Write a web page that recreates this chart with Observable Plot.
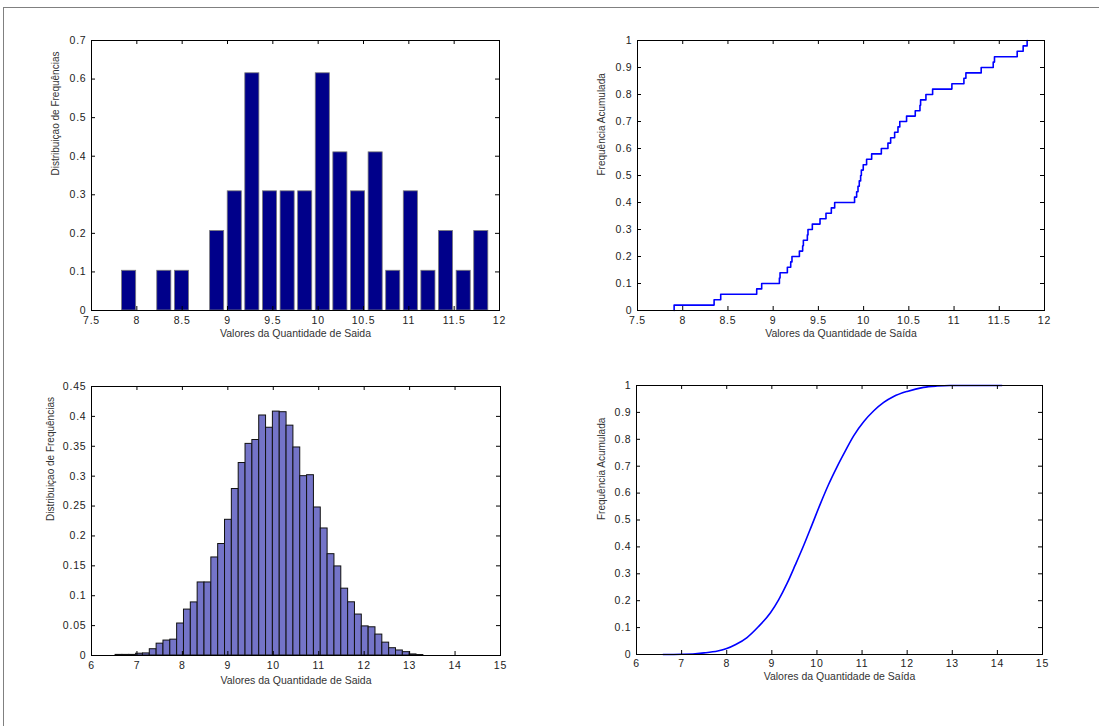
<!DOCTYPE html>
<html>
<head>
<meta charset="utf-8">
<script src="https://cdn.jsdelivr.net/npm/d3@7"></script>
<script src="https://cdn.jsdelivr.net/npm/@observablehq/plot@0.6"></script>
<style>
  html, body { margin: 0; padding: 0; background: #fff; }
  #fig { position: relative; width: 1099px; height: 726px; overflow: hidden; background: #fff; }
  #sheet { position: absolute; left: 3px; top: 7px; right: -4px; bottom: -4px;
           border-top: 1px solid #808080; border-left: 1px solid #808080; }
  .panel { position: absolute; }
  .panel svg { font-family: "Liberation Sans", Arial, Helvetica, sans-serif; }
  g[aria-label="x-axis tick label"] text,
  g[aria-label="y-axis tick label"] text,
  g[aria-label="x title"] text { letter-spacing: 0.8px; }
</style>
</head>
<body>
<div id="fig"><div id="sheet"></div></div>
<script>
// ---- 50 simulated output values (sorted) ----
const sampleValues = [
  7.905, 8.347, 8.42, 8.818, 8.873, 9.069, 9.076, 9.157, 9.194, 9.208,
  9.29, 9.326, 9.334, 9.378, 9.385, 9.433, 9.518, 9.584, 9.643, 9.68,
  9.90, 9.923, 9.938, 9.952, 9.967, 9.975, 9.996, 10.033, 10.089, 10.196,
  10.269, 10.299, 10.343, 10.38, 10.40, 10.475, 10.571, 10.623, 10.63, 10.689,
  10.763, 10.976, 11.109, 11.131, 11.30, 11.433, 11.447, 11.698, 11.764, 11.808
];

// ---- frequency distribution of the 50 values ----
const smallBinCenters = [
  7.915, 8.109, 8.303, 8.498, 8.692, 8.886, 9.08, 9.274, 9.469, 9.663, 9.857,
  10.051, 10.245, 10.44, 10.634, 10.828, 11.022, 11.216, 11.41, 11.605, 11.799
];
const smallBinDensity = [
  0.103, 0, 0.103, 0.103, 0, 0.206, 0.309, 0.615, 0.309, 0.309, 0.309,
  0.615, 0.41, 0.309, 0.41, 0.103, 0.309, 0.103, 0.206, 0.103, 0.206
];
const smallBinWidth = 0.1942;

// ---- frequency distribution of the large run ----
const bigFirstEdge = 6.53;
const bigBinWidth = 0.1505;
const bigBinDensity = [
  0.001, 0.001, 0.001, 0.003, 0.0035, 0.0105, 0.0198, 0.025, 0.0265, 0.0535,
  0.0768, 0.0888, 0.1222, 0.1222, 0.164, 0.1865, 0.227, 0.2785, 0.322, 0.354,
  0.3605, 0.4015, 0.381, 0.408, 0.407, 0.3845, 0.348, 0.300, 0.3016, 0.2476,
  0.2125, 0.1695, 0.149, 0.1118, 0.089, 0.0685, 0.0487, 0.0472, 0.035, 0.0215,
  0.0122, 0.0084, 0.0056, 0.0018, 0.0008
];

// ---- cumulative frequency of the large run ----
const bigCdfX = [6.59, 7.0, 7.3, 7.5, 7.8, 8.0, 8.2, 8.45, 8.7, 8.97, 9.15, 9.34, 9.52, 9.71, 9.89,
  10.08, 10.26, 10.44, 10.63, 10.81, 11.04, 11.26, 11.48, 11.70, 12.0, 12.36, 12.66, 12.95, 14.1];
const bigCdfY = [0, 0.001, 0.003, 0.006, 0.013, 0.022, 0.037, 0.063, 0.103, 0.155, 0.203, 0.265, 0.333, 0.407, 0.482,
  0.562, 0.633, 0.696, 0.757, 0.812, 0.866, 0.906, 0.937, 0.959, 0.978, 0.993, 0.998, 1, 1];

// ---- axis ticks ----
const topXTicks = [7.5, 8, 8.5, 9, 9.5, 10, 10.5, 11, 11.5, 12];
const topLeftYTicks = [0, 0.1, 0.2, 0.3, 0.4, 0.5, 0.6, 0.7];
const cdfYTicks = [0, 0.1, 0.2, 0.3, 0.4, 0.5, 0.6, 0.7, 0.8, 0.9, 1];
const bottomXTicks = [6, 7, 8, 9, 10, 11, 12, 13, 14, 15];
const bottomLeftYTicks = [0, 0.05, 0.1, 0.15, 0.2, 0.25, 0.3, 0.35, 0.4, 0.45];

const xTitleNoAccent = "Valores da Quantidade de Saida";
const xTitleAccent = "Valores da Quantidade de Saída";
const histTitle = "Distribuiçao de Frequências";
const cdfTitle = "Frequência Acumulada";

// ---- derived tables ----
const smallBars = smallBinCenters
  .map((c, i) => ({x1: c - 0.4 * smallBinWidth, x2: c + 0.4 * smallBinWidth, h: smallBinDensity[i]}))
  .filter(d => d.h > 0);
const bigBars = bigBinDensity.map((h, i) => ({
  x1: bigFirstEdge + i * bigBinWidth, x2: bigFirstEdge + (i + 1) * bigBinWidth, h
}));
const ecdf = [{x: sampleValues[0], y: 0}]
  .concat(sampleValues.map((v, i) => ({x: v, y: (i + 1) / sampleValues.length})));
const bigCdf = bigCdfX.map((x, i) => ({x, y: bigCdfY[i]}));

const fig = document.getElementById("fig");

function panel({left, top, width, height, m, xDomain, yDomain, xTicks, yTicks, marks,
                xTitle, yTitle, xPad, xTitleOff, yTitleOff}) {
  const [mt, mr, mb, ml] = m;
  const innerW = width - ml - mr, innerH = height - mt - mb;
  const svg = Plot.plot({
    width, height,
    marginTop: mt, marginRight: mr, marginBottom: mb, marginLeft: ml,
    style: {fontSize: "10.5px", color: "#222", background: "transparent", overflow: "visible", maxWidth: "none"},
    x: {domain: xDomain, label: null},
    y: {domain: yDomain, label: null},
    marks: [
      ...marks,
      Plot.tickX(xTicks, {x: d => d, insetTop: innerH - 4, stroke: "#000"}),
      Plot.tickX(xTicks, {x: d => d, insetBottom: innerH - 4, stroke: "#000"}),
      Plot.tickY(yTicks, {y: d => d, insetRight: innerW - 4, stroke: "#000"}),
      Plot.tickY(yTicks, {y: d => d, insetLeft: innerW - 4, stroke: "#000"}),
      Plot.axisX({ticks: xTicks, tickSize: 0, tickPadding: xPad, label: null, tickFormat: d => String(d), fill: "#222"}),
      Plot.axisY({ticks: yTicks, tickSize: 0, tickPadding: 5, label: null, tickFormat: d => String(d), fill: "#222"}),
      Plot.frame({stroke: "#000"}),
      Plot.text([xTitle], {frameAnchor: "bottom", dy: xTitleOff, text: d => d, lineAnchor: "middle",
        fill: "#333", fontSize: 10.5, ariaLabel: "x title"}),
      Plot.text([yTitle], {frameAnchor: "left", dx: -yTitleOff, rotate: -90, text: d => d, lineAnchor: "middle",
        fill: "#333", fontSize: 10, ariaLabel: "y title"})
    ]
  });
  const div = document.createElement("div");
  div.className = "panel";
  div.style.left = left + "px";
  div.style.top = top + "px";
  div.style.width = width + "px";
  div.style.height = height + "px";
  div.appendChild(svg);
  fig.appendChild(div);
}

// top left: histogram of the 50 values
panel({
  left: 0, top: 0, width: 549, height: 363, m: [40, 50, 53, 91],
  xDomain: [7.5, 12], yDomain: [0, 0.7], xTicks: topXTicks, yTicks: topLeftYTicks,
  marks: [Plot.rect(smallBars, {x1: "x1", x2: "x2", y1: 0, y2: "h", fill: "#00008a", stroke: "#7a7a7a", strokeWidth: 0.8})],
  xTitle: xTitleNoAccent, yTitle: histTitle, xPad: 6, xTitleOff: 23.5, yTitleOff: 36
});

// top right: empirical cumulative frequency of the 50 values
panel({
  left: 549, top: 0, width: 550, height: 363, m: [40, 55, 53, 88],
  xDomain: [7.5, 12], yDomain: [0, 1], xTicks: topXTicks, yTicks: cdfYTicks,
  marks: [Plot.line(ecdf, {x: "x", y: "y", curve: "step-after", stroke: "#0000ff", strokeWidth: 1.6})],
  xTitle: xTitleAccent, yTitle: cdfTitle, xPad: 6, xTitleOff: 23.5, yTitleOff: 36
});

// bottom left: histogram of the large run
panel({
  left: 0, top: 363, width: 549, height: 363, m: [23, 49, 71, 91],
  xDomain: [6, 15], yDomain: [0, 0.45], xTicks: bottomXTicks, yTicks: bottomLeftYTicks,
  marks: [Plot.rect(bigBars, {x1: "x1", x2: "x2", y1: 0, y2: "h", fill: "#7474c8", stroke: "#111", strokeWidth: 1})],
  xTitle: xTitleNoAccent, yTitle: histTitle, xPad: 6, xTitleOff: 25, yTitleOff: 41
});

// bottom right: cumulative frequency of the large run
panel({
  left: 549, top: 363, width: 550, height: 363, m: [22, 57, 72, 87],
  xDomain: [6, 15], yDomain: [0, 1], xTicks: bottomXTicks, yTicks: cdfYTicks,
  marks: [Plot.line(bigCdf, {x: "x", y: "y", curve: "monotone-x", stroke: "#0000ff", strokeWidth: 1.6})],
  xTitle: xTitleAccent, yTitle: cdfTitle, xPad: 5, xTitleOff: 22.5, yTitleOff: 35
});
</script>
</body>
</html>
